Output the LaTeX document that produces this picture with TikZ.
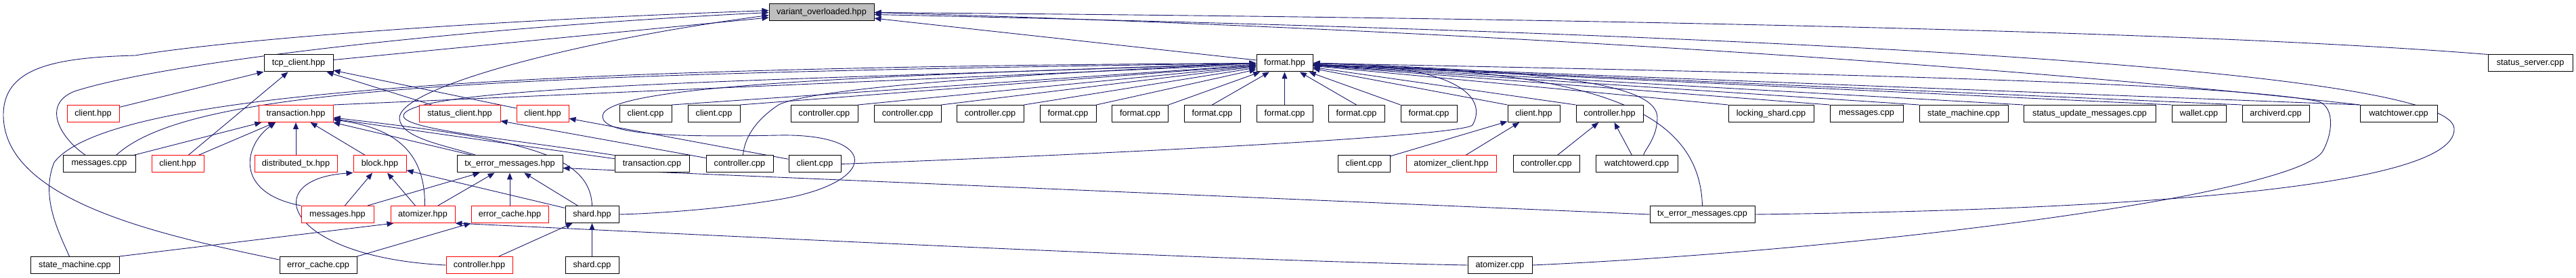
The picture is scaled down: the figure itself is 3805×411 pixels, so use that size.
\documentclass[tikz,border=0pt]{standalone}
\usepackage{fontspec}
\setmainfont{Liberation Sans}
\usetikzlibrary{arrows.meta,backgrounds}
\definecolor{edgeblue}{HTML}{191970}
\definecolor{rootgrey}{HTML}{BFBFBF}
\tikzset{
  filebox/.style={draw=black,line width=1pt,fill=white,minimum height=25pt,
    inner xsep=2pt,inner ysep=0pt,font=\fontsize{12.7}{14}\selectfont},
  truncbox/.style={filebox,draw=red},
  rootbox/.style={filebox,fill=rootgrey},
  incl/.style={edgeblue,line width=0.9pt,<-}
}
\begin{document}
\begin{tikzpicture}[x=1pt,y=-1pt,>={Triangle[length=10pt,width=8pt]}]
  \useasboundingbox (0,0) rectangle (3805,411);
  \node[rootbox,minimum width=155pt] (vo) at (1213.5,18.5) {variant\_overloaded.hpp};
  \node[filebox,minimum width=102pt] (tcp) at (441,93.5) {tcp\_client.hpp};
  \node[filebox,minimum width=83pt] (fmt) at (1897.5,93.5) {format.hpp};
  \node[filebox,minimum width=125pt] (ssrv) at (3737.5,93.5) {status\_server.cpp};
  \foreach \nm/\st/\x/\w/\txt in {
    clihA/truncbox/137.5/77/client.hpp, txh/truncbox/437/110/transaction.hpp,
    stch/truncbox/679/120/status\_client.hpp, clihB/truncbox/801.5/77/client.hpp,
    clicA/filebox/953.5/77/client.cpp, clicB/filebox/1054.5/77/client.cpp,
    ctlcA/filebox/1217.5/99/controller.cpp, ctlcB/filebox/1340.5/99/controller.cpp,
    ctlcC/filebox/1462.5/99/controller.cpp, fmtcA/filebox/1577.5/83/format.cpp,
    fmtcB/filebox/1684/83/format.cpp, fmtcC/filebox/1790.5/83/format.cpp,
    fmtcD/filebox/1897.5/83/format.cpp, fmtcE/filebox/2003.5/83/format.cpp,
    fmtcF/filebox/2110.5/83/format.cpp, clihC/filebox/2265.5/77/client.hpp,
    ctlh/filebox/2377.5/99/controller.hpp, lsc/filebox/2616/126/locking\_shard.cpp,
    msgcB/filebox/2757/108/messages.cpp, smcB/filebox/2900.5/131/state\_machine.cpp,
    sumc/filebox/3086.5/195/status\_update\_messages.cpp, wal/filebox/3248/80/wallet.cpp,
    arc/filebox/3361.5/99/archiverd.cpp, wtc/filebox/3543/114/watchtower.cpp}
    \node[\st,minimum width=\w pt] (\nm) at (\x,168) {\txt};
  \foreach \nm/\st/\x/\w/\txt in {
    msgcA/filebox/146.5/107/messages.cpp, clihD/truncbox/262.5/77/client.hpp,
    dtx/truncbox/437/122/distributed\_tx.hpp, blk/truncbox/561/78/block.hpp,
    txeh/filebox/753/156/tx\_error\_messages.hpp, txc/filebox/963/110/transaction.cpp,
    ctlcD/filebox/1092.5/99/controller.cpp, clicC/filebox/1203.5/77/client.cpp,
    clicD/filebox/2014.5/77/client.cpp, azch/truncbox/2143.5/133/atomizer\_client.hpp,
    ctlcE/filebox/2284/98/controller.cpp, wtd/filebox/2417.5/121/watchtowerd.cpp}
    \node[\st,minimum width=\w pt] (\nm) at (\x,242.5) {\txt};
  \foreach \nm/\st/\x/\w/\txt in {
    msgh/truncbox/498.5/107/messages.hpp, azh/truncbox/624.5/95/atomizer.hpp,
    ech/truncbox/753/114/error\_cache.hpp, shh/filebox/874.5/79/shard.hpp,
    txec/filebox/2514.5/155/tx\_error\_messages.cpp}
    \node[\st,minimum width=\w pt] (\nm) at (\x,317) {\txt};
  \foreach \nm/\st/\x/\w/\txt in {
    smcA/filebox/110.5/131/state\_machine.cpp, ecc/filebox/470/114/error\_cache.cpp,
    ctlhB/truncbox/708/98/controller.hpp, shc/filebox/874.5/79/shard.cpp,
    azc/filebox/2215.5/95/atomizer.cpp}
    \node[\st,minimum width=\w pt] (\nm) at (\x,392) {\txt};

  \begin{scope}[on background layer]
  \draw[incl] (vo) -- (tcp);
  \draw[incl] (vo) -- (fmt);
  \draw[incl] (vo.east) .. controls (2500,28) and (3300,50) .. (ssrv.north west);
  \draw[incl] (vo.east) .. controls (2200,45) and (3000,100) .. (wtc.north west);
  \draw[incl] ([yshift=-3pt]vo.east) .. controls (2600,50) and (3620,100) .. (3625,190)
    .. controls (3630,290) and (3000,312) .. (txec.east);
  \draw[incl] ([yshift=3pt]vo.west) .. controls (600,35) and (300,65) .. (200,82)
    .. controls (80,85) and (5,100) .. (5,170) .. controls (5,300) and (250,350) .. ([yshift=8pt]ecc.west);
  \draw[incl] (vo.west) .. controls (700,40) and (250,90) .. (110,135)
    .. controls (60,155) and (90,205) .. ([xshift=-20pt]msgcA.north);
  \draw[incl] ([yshift=-4pt]vo.west) .. controls (850,60) and (588,130) .. (590,175)
    .. controls (592,205) and (660,215) .. ([xshift=-50pt]txeh.north);

  \foreach \src in {clihA,clihD,stch,clihB}
    \draw[incl] (tcp) -- (\src);

  \foreach \src in {clicA,clicB,ctlcA,ctlcB,ctlcC,fmtcA,fmtcB,txh}
    \draw[incl] (fmt) -- (\src.north east);
  \foreach \src in {fmtcC,fmtcD,fmtcE}
    \draw[incl] (fmt) -- (\src.north);
  \foreach \src in {fmtcF,clihC,ctlh,lsc,msgcB,smcB,sumc,wal,arc,wtc}
    \draw[incl] (fmt) -- (\src.north west);
  \draw[incl] (fmt.west) .. controls (700,110) and (280,130) .. ([xshift=25pt]msgcA.north);
  \draw[incl] (fmt.west) .. controls (600,100) and (150,150) .. (80,240)
    .. controls (60,290) and (85,340) .. ([xshift=-8pt]smcA.north);
  \draw[incl] (fmt.west) .. controls (1300,112) and (890,125) .. (890,172)
    .. controls (890,200) and (1000,203) .. (1150,200)
    .. controls (1300,197) and (1300,270) .. (1150,295)
    .. controls (1060,310) and (960,316) .. (shh.east);
  \draw[incl] (fmt.west) .. controls (1200,118) and (592,125) .. (596,172)
    .. controls (600,192) and (750,205) .. (txc.north west);
  \draw[incl] (fmt.west) .. controls (1500,110) and (1200,130) .. (1150,155)
    .. controls (1120,175) and (1100,200) .. ([xshift=5pt]ctlcD.north);
  \draw[incl] (fmt.east) .. controls (2170,96) and (2195,150) .. (2175,185)
    .. controls (2150,205) and (1450,235) .. (clicC.east);
  \draw[incl] (fmt.east) .. controls (2300,105) and (2450,125) .. (2448,175)
    .. controls (2447,205) and (2430,220) .. ([xshift=10pt]wtd.north);
  \draw[incl] (fmt.east) .. controls (2300,105) and (2510,140) .. (txec.north);
  \draw[incl] (fmt.east) .. controls (2800,110) and (3300,125) .. (3425,150)
    .. controls (3450,160) and (3445,200) .. (3430,225)
    .. controls (3380,290) and (2750,370) .. (azc.east);

  \foreach \src in {msgcA,clihD,dtx,blk,txeh,txc}
    \draw[incl] (txh) -- (\src);
  \draw[incl] ([xshift=-30pt]txh.south) .. controls (360,215) and (345,285) .. (msgh.north west);
  \draw[incl] ([yshift=-9pt]txh.east) .. controls (590,190) and (628,230) .. ([xshift=3pt]azh.north);
  \draw[incl] ([yshift=-6pt]txh.east) .. controls (760,205) and (872,225) .. (shh.north);

  \draw[incl] (stch) -- (ctlcD);
  \draw[incl] (clihB) -- (clicC);
  \draw[incl] (clihC) -- (clicD);
  \draw[incl] (clihC) -- (azch);
  \draw[incl] (ctlh) -- (ctlcE);
  \draw[incl] (ctlh) -- (wtd);

  \foreach \src in {msgh,azh,shh}
    \draw[incl] (blk) -- (\src);
  \draw[incl] (blk.south west) .. controls (380,265) and (420,380) .. (ctlhB.west);
  \foreach \src in {msgh,azh,ech,shh}
    \draw[incl] (txeh) -- (\src);
  \draw[incl] ([yshift=-6pt]txeh.east) -- (txec.west);
  \draw[incl] ([xshift=5pt]azh.south west) -- (smcA.north east);
  \draw[incl] (azh.south east) .. controls (1100,350) and (1800,385) .. (azc.west);
  \draw[incl] (ech.south west) -- (ecc.north east);
  \draw[incl] (shh) -- (ctlhB);
  \draw[incl] (shh) -- (shc);
  \end{scope}
\end{tikzpicture}
\end{document}
